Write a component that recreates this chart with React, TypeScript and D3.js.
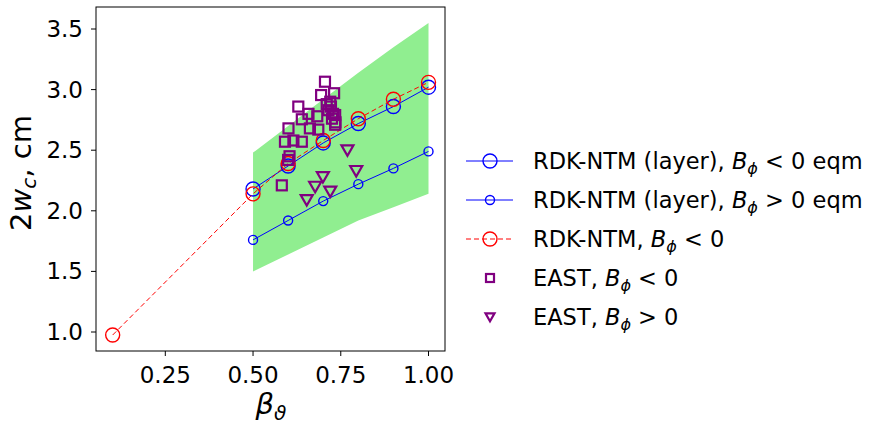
import React from "react";
import * as d3 from "d3";

const bandX = [0.5, 0.6, 0.7, 0.8, 0.9, 1.0];
const bandTop = [2.48, 2.7, 2.92, 3.14, 3.35, 3.55];
const bandBottom = [1.5, 1.64, 1.78, 1.92, 2.03, 2.14];

const layerX = [0.5, 0.6, 0.7, 0.8, 0.9, 1.0];
const layerNeg = [2.18, 2.37, 2.56, 2.72, 2.86, 3.02];
const layerPos = [1.76, 1.92, 2.08, 2.22, 2.35, 2.49];

const rdkX = [0.1, 0.5, 0.6, 0.7, 0.8, 0.9, 1.0];
const rdkNeg = [0.975, 2.14, 2.39, 2.58, 2.76, 2.92, 3.06];

const eastNegX = [0.582, 0.6, 0.604, 0.591, 0.615, 0.639, 0.601, 0.629, 0.639, 0.658, 0.662, 0.683, 0.686, 0.694, 0.705, 0.731, 0.715, 0.722, 0.728, 0.734, 0.734, 0.72, 0.71, 0.725, 0.735];
const eastNegY = [2.21, 2.42, 2.45, 2.57, 2.58, 2.57, 2.68, 2.86, 2.755, 2.8, 2.68, 2.78, 2.67, 2.955, 3.065, 2.97, 2.83, 2.86, 2.8, 2.79, 2.71, 2.9, 2.88, 2.76, 2.73];

const eastPosX = [0.769, 0.794, 0.699, 0.677, 0.72, 0.653];
const eastPosY = [2.5, 2.33, 2.28, 2.2, 2.16, 2.09];

const xTicks = [0.25, 0.5, 0.75, 1.0];
const xTickLabels = ["0.25", "0.50", "0.75", "1.00"];
const yTicks = [1.0, 1.5, 2.0, 2.5, 3.0, 3.5];
const yTickLabels = ["1.0", "1.5", "2.0", "2.5", "3.0", "3.5"];

const legendLabels = [
  { pre: "RDK-NTM (layer), ", op: " < 0 eqm" },
  { pre: "RDK-NTM (layer), ", op: " > 0 eqm" },
  { pre: "RDK-NTM, ", op: " < 0" },
  { pre: "EAST, ", op: " < 0" },
  { pre: "EAST, ", op: " > 0" },
];

const W = 877;
const H = 428;
const L = 96, R = 445, T = 7, B = 351;
const BLUE = "#0000ff";
const RED = "#ff0000";
const PURPLE = "#800080";
const FONT = "DejaVu Sans";

export default function App() {
  const x = d3.scaleLinear().domain([0.0525, 1.047]).range([L, R]);
  const y = d3.scaleLinear().domain([1.0, 3.5]).range([332, 29]);

  const area = d3
    .area<number>()
    .x((_, i) => x(bandX[i]))
    .y0((_, i) => y(bandBottom[i]))
    .y1((_, i) => y(bandTop[i]));

  const line = (xs: number[], ys: number[]) =>
    d3.line<number>().x((_, i) => x(xs[i])).y((_, i) => y(ys[i]))(ys) || "";

  const sq = 10;
  const tri = (cx: number, cy: number, s: number) =>
    `M${cx - s},${cy - s * 0.8}L${cx + s},${cy - s * 0.8}L${cx},${cy + s * 0.95}Z`;

  const legX0 = 466, legX1 = 513, legM = 490, legT = 533;
  const rowY = [161, 200, 239, 278, 317];

  const legendHandle = (i: number, cy: number) => {
    if (i === 0)
      return (
        <g>
          <line x1={legX0} x2={legX1} y1={cy} y2={cy} stroke={BLUE} strokeWidth={1} />
          <circle cx={legM} cy={cy} r={7} fill="none" stroke={BLUE} strokeWidth={1.4} />
        </g>
      );
    if (i === 1)
      return (
        <g>
          <line x1={legX0} x2={legX1} y1={cy} y2={cy} stroke={BLUE} strokeWidth={1} />
          <circle cx={legM} cy={cy} r={4.5} fill="none" stroke={BLUE} strokeWidth={1.4} />
        </g>
      );
    if (i === 2)
      return (
        <g>
          <line x1={legX0} x2={legX1} y1={cy} y2={cy} stroke={RED} strokeWidth={1} strokeDasharray="5,3" />
          <circle cx={legM} cy={cy} r={7} fill="none" stroke={RED} strokeWidth={1.4} />
        </g>
      );
    if (i === 3)
      return <rect x={legM - 4} y={cy - 4} width={8} height={8} fill="none" stroke={PURPLE} strokeWidth={2.2} />;
    return <path d={tri(legM, cy, 4.5)} fill="none" stroke={PURPLE} strokeWidth={2.2} />;
  };

  return (
    <svg
      width={W}
      height={H}
      style={{ position: "absolute", left: 0, top: 0, background: "#fff" }}
      fontFamily={FONT}
    >
      <rect x={0} y={0} width={W} height={H} fill="#fff" />
      <path d={area(bandX) || ""} fill="#90ee90" />

      <path d={line(layerX, layerNeg)} fill="none" stroke={BLUE} strokeWidth={1} />
      {layerX.map((v, i) => (
        <circle key={"a" + i} cx={x(v)} cy={y(layerNeg[i])} r={7} fill="none" stroke={BLUE} strokeWidth={1.4} />
      ))}
      <path d={line(layerX, layerPos)} fill="none" stroke={BLUE} strokeWidth={1} />
      {layerX.map((v, i) => (
        <circle key={"b" + i} cx={x(v)} cy={y(layerPos[i])} r={4.5} fill="none" stroke={BLUE} strokeWidth={1.4} />
      ))}
      <path d={line(rdkX, rdkNeg)} fill="none" stroke={RED} strokeWidth={1} strokeDasharray="5,3" />
      {rdkX.map((v, i) => (
        <circle key={"c" + i} cx={x(v)} cy={y(rdkNeg[i])} r={7} fill="none" stroke={RED} strokeWidth={1.4} />
      ))}

      {eastNegX.map((v, i) => (
        <rect
          key={"d" + i}
          x={x(v) - sq / 2}
          y={y(eastNegY[i]) - sq / 2}
          width={sq}
          height={sq}
          fill="none"
          stroke={PURPLE}
          strokeWidth={2.2}
        />
      ))}
      {eastPosX.map((v, i) => (
        <path key={"e" + i} d={tri(x(v), y(eastPosY[i]), 6)} fill="none" stroke={PURPLE} strokeWidth={2.2} />
      ))}

      <rect x={L} y={T} width={R - L} height={B - T} fill="none" stroke="#000" strokeWidth={1} />

      {xTicks.map((v, i) => (
        <g key={"xt" + i}>
          <line x1={x(v)} x2={x(v)} y1={B} y2={B + 5} stroke="#000" strokeWidth={1} />
          <text x={x(v)} y={383} textAnchor="middle" fontSize={23} fill="#000">
            {xTickLabels[i]}
          </text>
        </g>
      ))}
      {yTicks.map((v, i) => (
        <g key={"yt" + i}>
          <line x1={L - 5} x2={L} y1={y(v)} y2={y(v)} stroke="#000" strokeWidth={1} />
          <text x={83} y={y(v) + 8} textAnchor="end" fontSize={23} fill="#000">
            {yTickLabels[i]}
          </text>
        </g>
      ))}

      <text x={271} y={414} textAnchor="middle" fontSize={29} fill="#000">
        <tspan fontStyle="italic">β</tspan>
        <tspan fontStyle="italic" fontSize={20} dy={6}>ϑ</tspan>
      </text>

      <text x={31} y={173} textAnchor="middle" fontSize={29} fill="#000" transform="rotate(-90, 31, 173)">
        <tspan>2</tspan>
        <tspan fontStyle="italic">w</tspan>
        <tspan fontStyle="italic" fontSize={20} dy={5}>c</tspan>
        <tspan dy={-5}>, cm</tspan>
      </text>

      {legendLabels.map((lab, i) => (
        <g key={"lg" + i}>
          {legendHandle(i, rowY[i])}
          <text x={legT} y={rowY[i] + 8} fontSize={22.5} fill="#000">
            <tspan>{lab.pre}</tspan>
            <tspan fontStyle="italic">B</tspan>
            <tspan fontStyle="italic" fontSize={16} dy={5}>ϕ</tspan>
            <tspan dy={-5}>{lab.op}</tspan>
          </text>
        </g>
      ))}
    </svg>
  );
}
